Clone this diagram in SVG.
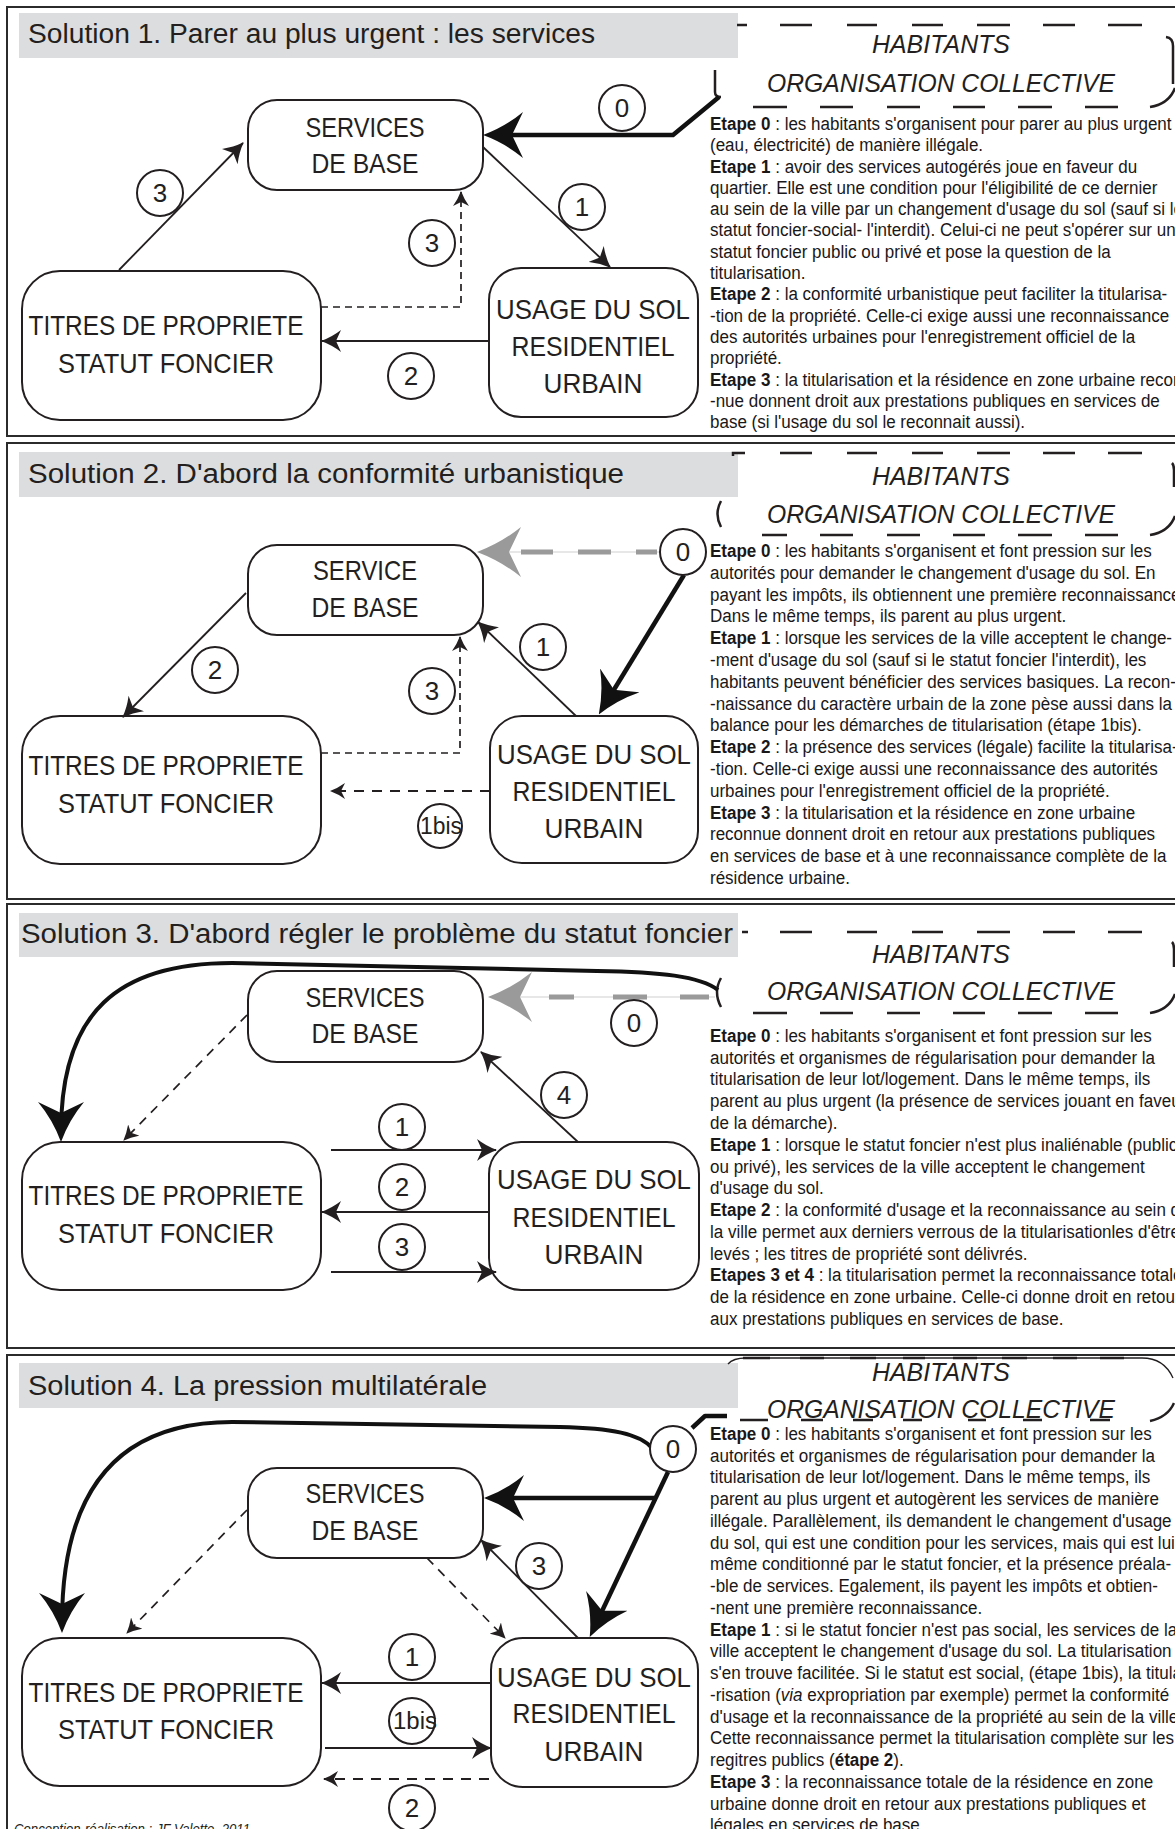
<svg xmlns="http://www.w3.org/2000/svg" width="1175" height="1829" viewBox="0 0 1175 1829">
<style>
.frame{fill:none;stroke:#2b2b2b;stroke-width:2}
.bar{fill:#dcdddf}
.title{font-family:"Liberation Sans",Arial,sans-serif;font-size:27px;fill:#231f20}
.node rect{fill:#fff;stroke:#231f20;stroke-width:2}
.node text{font-family:"Liberation Sans",Arial,sans-serif;font-size:28px;fill:#231f20;text-anchor:middle}
.hab text{font-family:"Liberation Sans",Arial,sans-serif;font-style:italic;font-size:26px;fill:#231f20;text-anchor:middle}
.hab path{fill:none;stroke:#231f20;stroke-width:2.5}
.hab path.thin{stroke-width:1.3}
.body{font-family:"Liberation Sans",Arial,sans-serif;font-size:18px;fill:#1a1718}
.b{font-weight:bold}
.num circle{fill:#fff;stroke:#231f20;stroke-width:2}
.num text{font-family:"Liberation Sans",Arial,sans-serif;font-size:26px;fill:#231f20;text-anchor:middle}
.thick{fill:none;stroke:#111;stroke-width:4.5;stroke-linejoin:round}
.thin{fill:none;stroke:#231f20;stroke-width:1.8}
.dsh{fill:none;stroke:#231f20;stroke-width:1.7;stroke-dasharray:7 5}
.dsh2{fill:none;stroke:#231f20;stroke-width:2;stroke-dasharray:10 8}
.grayline{fill:none;stroke:#d0d0d0;stroke-width:1.2}
.graydash{fill:none;stroke:#9a9a9a;stroke-width:5}
.credit{font-family:"Liberation Sans",Arial,sans-serif;font-style:italic;font-size:14px;fill:#231f20}
</style>
<defs>
<marker id="big" viewBox="0 0 40 46" refX="30" refY="23" markerWidth="40" markerHeight="46" markerUnits="userSpaceOnUse" orient="auto">
<path d="M40,23 Q18,15 0,0 L11,23 L0,46 Q18,31 40,23 Z" fill="#111"/>
</marker>
<marker id="gray" viewBox="0 0 44 50" refX="34" refY="25" markerWidth="44" markerHeight="50" markerUnits="userSpaceOnUse" orient="auto">
<path d="M44,25 Q20,16 0,0 L12,25 L0,50 Q20,34 44,25 Z" fill="#9a9a9a"/>
</marker>
<marker id="sm" viewBox="0 0 20 22" refX="19" refY="11" markerWidth="20" markerHeight="22" markerUnits="userSpaceOnUse" orient="auto">
<path d="M20,11 Q9,7 0,0 L5,11 L0,22 Q9,15 20,11 Z" fill="#231f20"/>
</marker>
<marker id="ds" viewBox="0 0 15 16" refX="14" refY="8" markerWidth="15" markerHeight="16" markerUnits="userSpaceOnUse" orient="auto">
<path d="M15,8 Q7,5 0,0 L4,8 L0,16 Q7,11 15,8 Z" fill="#231f20"/>
</marker>
</defs>
<rect width="1175" height="1829" fill="#fff"/>

<!-- ================= PANEL 1 ================= -->
<g id="panel1">
<rect class="frame" x="7" y="7" width="1180" height="429"/>
<rect class="bar" x="19" y="13" width="719" height="45"/>
<text class="title" x="28" y="43" textLength="567" lengthAdjust="spacingAndGlyphs">Solution 1. Parer au plus urgent : les services</text>
<g id="p1-habitants" class="hab">
<path d="M737,25 H747 M780,25 H812 M847,25 H877 M912,25 H943 M977,25 H1010 M1043,25 H1075 M1108,25 H1142"/>
<path d="M1166,37 Q1173,38 1173,46 V84"/>
<path d="M753,107 H787 M820,107 H853 M887,107 H920 M953,107 H985 M1018,107 H1052 M1085,107 H1118"/>
<path d="M1150,107 Q1169,104 1175,88"/>
<path d="M715,70 V92 Q715,97 721,97"/>
<text x="941" y="53" textLength="138" lengthAdjust="spacingAndGlyphs">HABITANTS</text>
<text x="941" y="92" textLength="348" lengthAdjust="spacingAndGlyphs">ORGANISATION COLLECTIVE</text>
</g>
<g id="p1-services" class="node"><rect x="248" y="100" width="235" height="90" rx="29"/>
<text x="365" y="137" textLength="119" lengthAdjust="spacingAndGlyphs">SERVICES</text>
<text x="365" y="173" textLength="107" lengthAdjust="spacingAndGlyphs">DE BASE</text></g>
<g id="p1-titres" class="node"><rect x="22" y="271" width="299" height="149" rx="38"/>
<text x="166" y="335" textLength="275" lengthAdjust="spacingAndGlyphs">TITRES DE PROPRIETE</text>
<text x="166" y="373" textLength="216" lengthAdjust="spacingAndGlyphs">STATUT FONCIER</text></g>
<g id="p1-usage" class="node"><rect x="489" y="268" width="209" height="149" rx="32"/>
<text x="593" y="319" textLength="194" lengthAdjust="spacingAndGlyphs">USAGE DU SOL</text>
<text x="593" y="356" textLength="163" lengthAdjust="spacingAndGlyphs">RESIDENTIEL</text>
<text x="593" y="393" textLength="99" lengthAdjust="spacingAndGlyphs">URBAIN</text></g>
<g id="p1-connectors">
<path class="thick" d="M719,97 L673,135 L493,135" marker-end="url(#big)"/>
<path class="thin" d="M483,147 L610,267" marker-end="url(#sm)"/>
<path class="thin" d="M119,270 L243,143" marker-end="url(#sm)"/>
<path class="dsh" d="M321,307 H461 V192" marker-end="url(#ds)"/>
<path class="thin" d="M488,341 L322,341" marker-end="url(#sm)"/>
<g class="num"><circle cx="622" cy="108" r="23"/><text x="622" y="117">0</text></g>
<g class="num"><circle cx="582" cy="207" r="23"/><text x="582" y="216">1</text></g>
<g class="num"><circle cx="160" cy="193" r="23"/><text x="160" y="202">3</text></g>
<g class="num"><circle cx="432" cy="243" r="23"/><text x="432" y="252">3</text></g>
<g class="num"><circle cx="411" cy="376" r="23"/><text x="411" y="385">2</text></g>
</g>
<text class="body" transform="translate(710 0) scale(0.945 1)">
<tspan x="0" y="130"><tspan class="b">Etape 0</tspan> : les habitants s'organisent pour parer au plus urgent</tspan>
<tspan x="0" y="151.3">(eau, électricité) de manière illégale.</tspan>
<tspan x="0" y="172.6"><tspan class="b">Etape 1</tspan> : avoir des services autogérés joue en faveur du</tspan>
<tspan x="0" y="193.9">quartier. Elle est une condition pour l'éligibilité de ce dernier</tspan>
<tspan x="0" y="215.2">au sein de la ville par un changement d'usage du sol (sauf si le</tspan>
<tspan x="0" y="236.5">statut foncier-social- l'interdit). Celui-ci ne peut s'opérer sur un</tspan>
<tspan x="0" y="257.8">statut foncier public ou privé et pose la question de la</tspan>
<tspan x="0" y="279.1">titularisation.</tspan>
<tspan x="0" y="300.4"><tspan class="b">Etape 2</tspan> : la conformité urbanistique peut faciliter la titularisa-</tspan>
<tspan x="0" y="321.7">-tion de la propriété. Celle-ci exige aussi une reconnaissance</tspan>
<tspan x="0" y="343">des autorités urbaines pour l'enregistrement officiel de la</tspan>
<tspan x="0" y="364.3">propriété.</tspan>
<tspan x="0" y="385.6"><tspan class="b">Etape 3</tspan> : la titularisation et la résidence en zone urbaine recon</tspan>
<tspan x="0" y="406.9">-nue donnent droit aux prestations publiques en services de</tspan>
<tspan x="0" y="428.2">base (si l'usage du sol le reconnait aussi).</tspan>
</text>
</g>

<!-- ================= PANEL 2 ================= -->
<g id="panel2">
<rect class="frame" x="7" y="443" width="1180" height="456"/>
<rect class="bar" x="19" y="452" width="719" height="45"/>
<text class="title" x="28" y="483" textLength="596" lengthAdjust="spacingAndGlyphs">Solution 2. D'abord la conformité urbanistique</text>
<g id="p2-habitants" class="hab">
<path d="M733,456 V453 H745 M780,453 H812 M847,453 H877 M912,453 H943 M977,453 H1010 M1043,453 H1075 M1108,453 H1142"/>
<path d="M1172,463 Q1174,465 1174,470 V487"/>
<path d="M721,501 Q714,514 721,527"/>
<path d="M762,535 H787 M820,535 H853 M887,535 H920 M953,535 H985 M1018,535 H1052 M1085,535 H1118"/>
<path d="M1150,535 Q1169,532 1175,516"/>
<text x="941" y="485" textLength="138" lengthAdjust="spacingAndGlyphs">HABITANTS</text>
<text x="941" y="523" textLength="348" lengthAdjust="spacingAndGlyphs">ORGANISATION COLLECTIVE</text>
</g>
<g id="p2-service" class="node"><rect x="248" y="545" width="235" height="90" rx="29"/>
<text x="365" y="580" textLength="104" lengthAdjust="spacingAndGlyphs">SERVICE</text>
<text x="365" y="617" textLength="107" lengthAdjust="spacingAndGlyphs">DE BASE</text></g>
<g id="p2-titres" class="node"><rect x="22" y="716" width="299" height="148" rx="38"/>
<text x="166" y="775" textLength="275" lengthAdjust="spacingAndGlyphs">TITRES DE PROPRIETE</text>
<text x="166" y="813" textLength="216" lengthAdjust="spacingAndGlyphs">STATUT FONCIER</text></g>
<g id="p2-usage" class="node"><rect x="490" y="716" width="208" height="147" rx="32"/>
<text x="594" y="764" textLength="194" lengthAdjust="spacingAndGlyphs">USAGE DU SOL</text>
<text x="594" y="801" textLength="163" lengthAdjust="spacingAndGlyphs">RESIDENTIEL</text>
<text x="594" y="838" textLength="99" lengthAdjust="spacingAndGlyphs">URBAIN</text></g>
<g id="p2-connectors">
<path class="grayline" d="M661,552 L487,552" marker-end="url(#gray)"/>
<path class="graydash" d="M636,552 H657 M578,552 H611 M521,552 H553"/>
<path class="thick" d="M684,575 L604,706" marker-end="url(#big)"/>
<path class="thin" d="M576,716 L478,622" marker-end="url(#sm)"/>
<path class="thin" d="M246,593 L123,717" marker-end="url(#sm)"/>
<path class="dsh" d="M321,753 H460 V637" marker-end="url(#ds)"/>
<path class="dsh2" d="M490,791 H331" marker-end="url(#ds)"/>
<g class="num"><circle cx="683" cy="552" r="23"/><text x="683" y="561">0</text></g>
<g class="num"><circle cx="543" cy="647" r="23"/><text x="543" y="656">1</text></g>
<g class="num"><circle cx="215" cy="670" r="23"/><text x="215" y="679">2</text></g>
<g class="num"><circle cx="432" cy="691" r="23"/><text x="432" y="700">3</text></g>
<g class="num"><circle cx="440" cy="826" r="22"/><text x="441" y="834" style="font-size:23px" textLength="42" lengthAdjust="spacingAndGlyphs">1bis</text></g>
</g>
<text class="body" transform="translate(710 0) scale(0.945 1)">
<tspan x="0" y="557"><tspan class="b">Etape 0</tspan> : les habitants s'organisent et font pression sur les</tspan>
<tspan x="0" y="578.8">autorités pour demander le changement d'usage du sol. En</tspan>
<tspan x="0" y="600.6">payant les impôts, ils obtiennent une première reconnaissance</tspan>
<tspan x="0" y="622.4">Dans le même temps, ils parent au plus urgent.</tspan>
<tspan x="0" y="644.2"><tspan class="b">Etape 1</tspan> : lorsque les services de la ville acceptent le change-</tspan>
<tspan x="0" y="666">-ment d'usage du sol (sauf si le statut foncier l'interdit), les</tspan>
<tspan x="0" y="687.8">habitants peuvent bénéficier des services basiques. La recon-</tspan>
<tspan x="0" y="709.6">-naissance du caractère urbain de la  zone pèse aussi dans la</tspan>
<tspan x="0" y="731.4">balance pour les démarches de titularisation (étape 1bis).</tspan>
<tspan x="0" y="753.2"><tspan class="b">Etape 2</tspan> : la présence des services (légale) facilite la titularisa-</tspan>
<tspan x="0" y="775">-tion. Celle-ci exige aussi une reconnaissance des autorités</tspan>
<tspan x="0" y="796.8">urbaines pour l'enregistrement officiel de la propriété.</tspan>
<tspan x="0" y="818.6"><tspan class="b">Etape 3</tspan> : la titularisation et la résidence en zone urbaine</tspan>
<tspan x="0" y="840.4">reconnue donnent droit en retour aux prestations publiques</tspan>
<tspan x="0" y="862.2">en services de base et à une reconnaissance complète de la</tspan>
<tspan x="0" y="884">résidence urbaine.</tspan>
</text>
</g>

<!-- ================= PANEL 3 ================= -->
<g id="panel3">
<rect class="frame" x="7" y="904" width="1180" height="444"/>
<rect class="bar" x="19" y="913" width="719" height="44"/>
<text class="title" x="21" y="943" textLength="712" lengthAdjust="spacingAndGlyphs">Solution 3. D'abord régler le problème du statut foncier</text>
<g id="p3-habitants" class="hab">
<path d="M742,932 H748 M780,932 H812 M847,932 H877 M912,932 H943 M977,932 H1010 M1043,932 H1075 M1108,932 H1142"/>
<path d="M1172,942 Q1174,944 1174,949 V967"/>
<path d="M721,978 Q713,992 721,1007"/>
<path d="M753,1013 H787 M820,1013 H853 M887,1013 H920 M953,1013 H985 M1018,1013 H1052 M1085,1013 H1118"/>
<path d="M1150,1013 Q1169,1010 1175,994"/>
<text x="941" y="963" textLength="138" lengthAdjust="spacingAndGlyphs">HABITANTS</text>
<text x="941" y="1000" textLength="348" lengthAdjust="spacingAndGlyphs">ORGANISATION COLLECTIVE</text>
</g>
<g id="p3-services" class="node"><rect x="248" y="971" width="235" height="91" rx="29"/>
<text x="365" y="1007" textLength="119" lengthAdjust="spacingAndGlyphs">SERVICES</text>
<text x="365" y="1043" textLength="107" lengthAdjust="spacingAndGlyphs">DE BASE</text></g>
<g id="p3-titres" class="node"><rect x="22" y="1142" width="299" height="148" rx="38"/>
<text x="166" y="1205" textLength="275" lengthAdjust="spacingAndGlyphs">TITRES DE PROPRIETE</text>
<text x="166" y="1243" textLength="216" lengthAdjust="spacingAndGlyphs">STATUT FONCIER</text></g>
<g id="p3-usage" class="node"><rect x="489" y="1142" width="210" height="148" rx="32"/>
<text x="594" y="1189" textLength="194" lengthAdjust="spacingAndGlyphs">USAGE DU SOL</text>
<text x="594" y="1227" textLength="163" lengthAdjust="spacingAndGlyphs">RESIDENTIEL</text>
<text x="594" y="1264" textLength="99" lengthAdjust="spacingAndGlyphs">URBAIN</text></g>
<g id="p3-connectors">
<path class="thick" style="stroke-width:4" d="M718,990 C700,976 660,972 597,971 L232,963 C118,963 61,1012 61,1132" marker-end="url(#big)"/>
<path class="grayline" d="M715,997 L498,997" marker-end="url(#gray)"/>
<path class="graydash" d="M680,997 H709 M613,997 H647 M549,997 H574"/>
<path class="dsh" style="stroke-dasharray:9 7" d="M247,1015 L124,1140" marker-end="url(#ds)"/>
<path class="thin" d="M578,1142 L481,1052" marker-end="url(#sm)"/>
<path class="thin" d="M331,1150 L496,1150" marker-end="url(#sm)"/>
<path class="thin" d="M489,1212 L322,1212" marker-end="url(#sm)"/>
<path class="thin" d="M331,1272 L496,1272" marker-end="url(#sm)"/>
<g class="num"><circle cx="634" cy="1023" r="23"/><text x="634" y="1032">0</text></g>
<g class="num"><circle cx="564" cy="1095" r="23"/><text x="564" y="1104">4</text></g>
<g class="num"><circle cx="402" cy="1127" r="23"/><text x="402" y="1136">1</text></g>
<g class="num"><circle cx="402" cy="1187" r="23"/><text x="402" y="1196">2</text></g>
<g class="num"><circle cx="402" cy="1247" r="23"/><text x="402" y="1256">3</text></g>
</g>
<text class="body" transform="translate(710 0) scale(0.945 1)">
<tspan x="0" y="1042"><tspan class="b">Etape 0</tspan> : les habitants s'organisent et font pression sur les</tspan>
<tspan x="0" y="1063.8">autorités et organismes de régularisation pour demander la</tspan>
<tspan x="0" y="1085.5">titularisation de leur lot/logement. Dans le même temps, ils</tspan>
<tspan x="0" y="1107.3">parent au plus urgent (la présence de services jouant en faveur</tspan>
<tspan x="0" y="1129.1">de la démarche).</tspan>
<tspan x="0" y="1150.9"><tspan class="b">Etape 1</tspan> : lorsque le statut foncier n'est plus inaliénable (public</tspan>
<tspan x="0" y="1172.6">ou privé), les  services de la ville acceptent le  changement</tspan>
<tspan x="0" y="1194.4">d'usage du sol.</tspan>
<tspan x="0" y="1216.2"><tspan class="b">Etape 2</tspan> : la conformité d'usage et la reconnaissance au sein de</tspan>
<tspan x="0" y="1238">la ville permet aux derniers verrous de la titularisationles d'être</tspan>
<tspan x="0" y="1259.7">levés ; les titres de propriété sont délivrés.</tspan>
<tspan x="0" y="1281.5"><tspan class="b">Etapes 3 et 4</tspan> : la titularisation permet la reconnaissance totale</tspan>
<tspan x="0" y="1303.3">de la résidence en zone urbaine. Celle-ci donne droit en retour</tspan>
<tspan x="0" y="1325">aux prestations publiques en services de base.</tspan>
</text>
</g>

<!-- ================= PANEL 4 ================= -->
<g id="panel4">
<rect class="frame" x="7" y="1355" width="1180" height="490"/>
<rect class="bar" x="19" y="1363" width="719" height="45"/>
<text class="title" x="28" y="1395" textLength="459" lengthAdjust="spacingAndGlyphs">Solution 4. La pression multilatérale</text>
<g id="p4-habitants" class="hab">
<path class="thin" d="M728,1364 Q733,1358 746,1358 H1142 Q1164,1358 1173,1378"/>
<path d="M743,1358 H770 M800,1358 H824 M850,1358 H876 M903,1358 H925 M953,1358 H977 M1002,1358 H1027 M1053,1358 H1077 M1100,1358 H1124"/>
<path d="M740,1420 H768 M801,1420 H823 M853,1420 H873 M903,1420 H922 M968,1420 H986 M1023,1420 H1042 M1090,1420 H1110"/>
<path d="M1150,1421 Q1168,1417 1174,1403"/>
<text x="941" y="1381" textLength="138" lengthAdjust="spacingAndGlyphs">HABITANTS</text>
<text x="941" y="1418" textLength="348" lengthAdjust="spacingAndGlyphs">ORGANISATION COLLECTIVE</text>
</g>
<g id="p4-services" class="node"><rect x="248" y="1468" width="235" height="90" rx="29"/>
<text x="365" y="1503" textLength="119" lengthAdjust="spacingAndGlyphs">SERVICES</text>
<text x="365" y="1540" textLength="107" lengthAdjust="spacingAndGlyphs">DE BASE</text></g>
<g id="p4-titres" class="node"><rect x="22" y="1638" width="299" height="148" rx="38"/>
<text x="166" y="1702" textLength="275" lengthAdjust="spacingAndGlyphs">TITRES DE PROPRIETE</text>
<text x="166" y="1739" textLength="216" lengthAdjust="spacingAndGlyphs">STATUT FONCIER</text></g>
<g id="p4-usage" class="node"><rect x="491" y="1638" width="207" height="149" rx="32"/>
<text x="594" y="1687" textLength="194" lengthAdjust="spacingAndGlyphs">USAGE DU SOL</text>
<text x="594" y="1723" textLength="163" lengthAdjust="spacingAndGlyphs">RESIDENTIEL</text>
<text x="594" y="1761" textLength="99" lengthAdjust="spacingAndGlyphs">URBAIN</text></g>
<g id="p4-connectors">
<path class="thick" d="M692,1428 L705,1416 L727,1416"/>
<path class="thick" style="stroke-width:4" d="M652,1448 C640,1434 612,1428 560,1427 L232,1422 C116,1422 62,1492 62,1623" marker-end="url(#big)"/>
<path class="thick" d="M668,1472 L594,1628" marker-end="url(#big)"/>
<path class="thick" d="M657,1498 L494,1498" marker-end="url(#big)"/>
<path class="dsh" style="stroke-dasharray:9 7" d="M247,1510 L127,1633" marker-end="url(#ds)"/>
<path class="dsh" style="stroke-dasharray:9 7" d="M427,1558 L505,1638" marker-end="url(#ds)"/>
<path class="thin" d="M578,1638 L481,1540" marker-end="url(#sm)"/>
<path class="thin" d="M490,1683 L322,1683" marker-end="url(#sm)"/>
<path class="thin" d="M325,1748 L491,1748" marker-end="url(#sm)"/>
<path class="dsh2" d="M489,1779 H324" marker-end="url(#ds)"/>
<g class="num"><circle cx="673" cy="1449" r="23"/><text x="673" y="1458">0</text></g>
<g class="num"><circle cx="539" cy="1566" r="23"/><text x="539" y="1575">3</text></g>
<g class="num"><circle cx="412" cy="1657" r="23"/><text x="412" y="1666">1</text></g>
<g class="num"><circle cx="412" cy="1721" r="23"/><text x="415" y="1729" style="font-size:23px" textLength="44" lengthAdjust="spacingAndGlyphs">1bis</text></g>
<g class="num"><circle cx="412" cy="1808" r="23"/><text x="412" y="1817">2</text></g>
</g>
<text class="body" transform="translate(710 0) scale(0.945 1)">
<tspan x="0" y="1440"><tspan class="b">Etape 0</tspan> : les habitants s'organisent et font pression sur les</tspan>
<tspan x="0" y="1461.75">autorités et organismes de régularisation pour demander la</tspan>
<tspan x="0" y="1483.5">titularisation de leur lot/logement. Dans le même temps, ils</tspan>
<tspan x="0" y="1505.25">parent au plus urgent et autogèrent les services de manière</tspan>
<tspan x="0" y="1527">illégale. Parallèlement, ils demandent le changement d'usage</tspan>
<tspan x="0" y="1548.75">du sol, qui est une condition pour les services, mais qui est lui-</tspan>
<tspan x="0" y="1570.5">même conditionné par le statut foncier, et la présence préala-</tspan>
<tspan x="0" y="1592.25">-ble de services. Egalement, ils payent les impôts et obtien-</tspan>
<tspan x="0" y="1614">-nent une première reconnaissance.</tspan>
<tspan x="0" y="1635.75"><tspan class="b">Etape 1</tspan> : si le statut foncier n'est pas social, les  services de la</tspan>
<tspan x="0" y="1657.5">ville acceptent le changement d'usage du sol. La titularisation</tspan>
<tspan x="0" y="1679.25">s'en trouve facilitée. Si le statut est social, (étape 1bis), la titula-</tspan>
<tspan x="0" y="1701">-risation (<tspan font-style="italic">via</tspan> expropriation par exemple) permet la conformité</tspan>
<tspan x="0" y="1722.75">d'usage et la reconnaissance de la propriété au sein de la ville.</tspan>
<tspan x="0" y="1744.5">Cette reconnaissance permet la titularisation complète sur les</tspan>
<tspan x="0" y="1766.25">regitres publics (<tspan class="b">étape 2</tspan>).</tspan>
<tspan x="0" y="1788"><tspan class="b">Etape 3</tspan> : la reconnaissance totale de la résidence en zone</tspan>
<tspan x="0" y="1809.75">urbaine donne droit en retour aux prestations publiques et</tspan>
<tspan x="0" y="1831.5">légales en services de base.</tspan>
</text>
<text class="credit" x="14" y="1834" textLength="236" lengthAdjust="spacingAndGlyphs">Conception-réalisation : JF Valette, 2011</text>
</g>
</svg>
